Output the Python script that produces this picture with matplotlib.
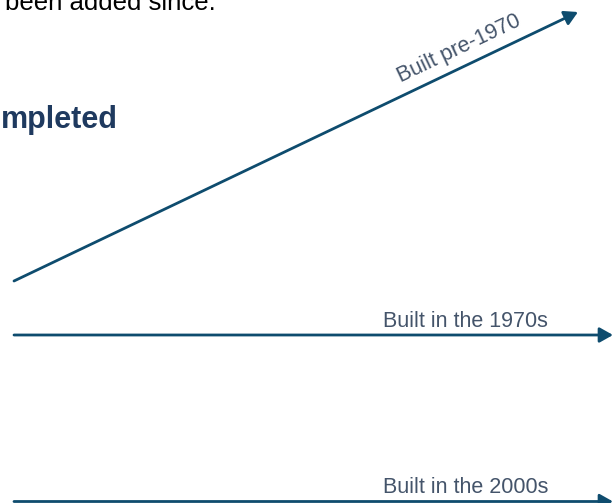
import matplotlib
matplotlib.use("Agg")
import matplotlib.pyplot as plt

plt.rcParams["font.family"] = ["Liberation Sans", "DejaVu Sans"]

# arrows (pixel space of the slide crop): start and end points
arrow_start_x = [14, 14, 14]
arrow_start_y = [281, 335, 501.5]
arrow_end_x = [578, 613, 613]
arrow_end_y = [12, 335, 501.5]

# labels sitting on the arrows
labels = ["Built pre-1970", "Built in the 1970s", "Built in the 2000s"]
label_x = [401, 383, 383]
label_y = [82, 327, 493]
label_rot = [25.4, 0, 0]

arrow_col = "#0E4C6E"
label_col = "#44546A"

fig = plt.figure(figsize=(6.13, 5.03), dpi=100)
ax = fig.add_axes([0, 0, 1, 1])
ax.set_xlim(0, 613)
ax.set_ylim(503, 0)
ax.axis("off")

for i in range(len(arrow_start_x)):
    ax.annotate("", xy=(arrow_end_x[i], arrow_end_y[i]),
                xytext=(arrow_start_x[i], arrow_start_y[i]),
                arrowprops=dict(arrowstyle="-|>,head_length=0.8,head_width=0.45",
                                mutation_scale=10, color=arrow_col, lw=2.0,
                                shrinkA=0, shrinkB=0))
    ax.text(label_x[i], label_y[i], labels[i], fontsize=15.5, color=label_col,
            rotation=label_rot[i], rotation_mode="anchor",
            ha="left", va="baseline")

# bits of the surrounding slide text (cut by the crop in the original too)
ax.text(5, 9.5, "been added since.", fontsize=18.5, color="black",
        ha="left", va="baseline")
ax.text(1, 128, "mpleted", fontsize=22, fontweight="bold", color="#1F3A5F",
        ha="left", va="baseline")

fig.savefig("out.png", dpi=100)
